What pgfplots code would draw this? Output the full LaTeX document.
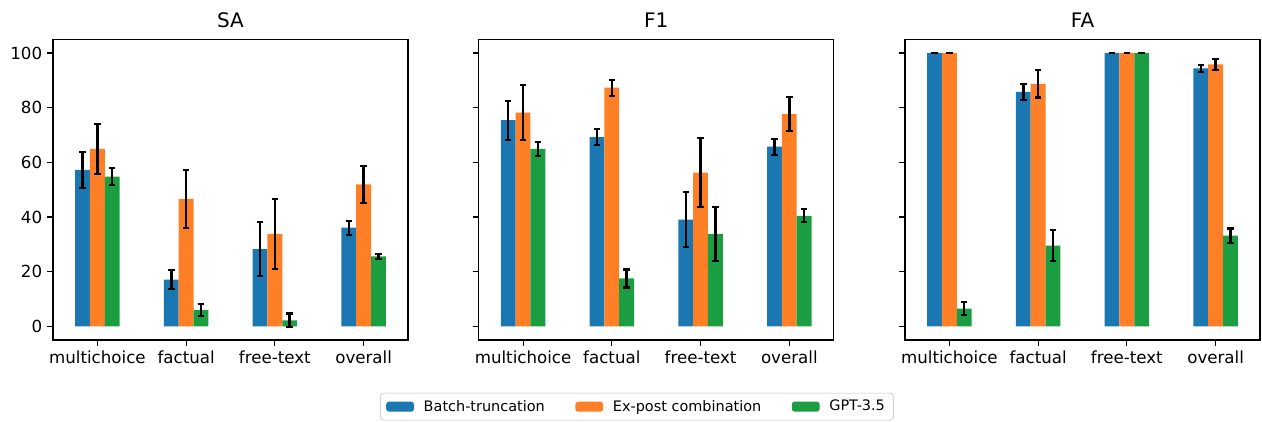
\documentclass[border=0pt]{standalone}
\usepackage{fontspec}
\setmainfont{DejaVu Sans}
\usepackage{pgfplots}
\usepackage{pgfplotstable}
\pgfplotsset{compat=1.18}

\definecolor{tabblue}{HTML}{1B77B2}
\definecolor{taborange}{HTML}{FF7F27}
\definecolor{tabgreen}{HTML}{1B9E41}

% columns: category, Batch-truncation (+err), Ex-post combination (+err), GPT-3.5 (+err)
\pgfplotstableread{
x b    be   o    oe   g    ge
0 57.2 6.6  64.9 9.2  54.8 3.0
1 17.1 3.6  46.6 10.5 6.0  2.3
2 28.2 9.9  33.8 12.7 2.2  2.5
3 36.1 2.6  51.9 6.7  25.6 1.0
}\sa
\pgfplotstableread{
x b    be   o    oe   g    ge
0 75.4 7.1  78.2 10.0 64.9 2.5
1 69.2 2.9  87.3 2.9  17.5 3.3
2 39.0 10.1 56.2 12.7 33.8 9.8
3 65.7 2.9  77.6 6.2  40.4 2.4
}\fone
\pgfplotstableread{
x b     be  o     oe  g     ge
0 100.0 0.0 100.0 0.0 6.5   2.4
1 85.8  2.9 88.7  5.0 29.5  5.7
2 100.0 0.0 100.0 0.0 100.0 0.0
3 94.4  1.2 95.8  2.1 33.2  2.6
}\fa

\pgfplotsset{
  panel/.style={
    scale only axis,
    width=255.6pt, height=216.5pt,
    anchor=south west,
    xmin=-0.5, xmax=3.5,
    ymin=-5, ymax=105,
    xtick={0,1,2,3},
    xticklabels={multichoice,factual,free-text,overall},
    ytick={0,20,...,100},
    xtick pos=bottom, ytick pos=left,
    tick align=outside,
    major tick length=4.3pt,
    axis line style={line width=0.8pt},
    every tick/.style={black, line width=0.8pt},
    tick label style={font=\fontsize{12}{14}\selectfont},
    /pgf/number format/assume math mode=true,
    title style={font=\fontsize{14.4}{17}\selectfont, yshift=-1pt},
    ybar, bar width=0.1667,
  },
  eb/.style={draw=none,
    error bars/y dir=both, error bars/y explicit,
    error bars/error bar style={line width=1.7pt, black},
    error bars/error mark options={rotate=90, mark size=2.3pt, line width=1.5pt, black}},
  bb/.style={eb, fill=tabblue, bar shift=-0.1667},
  oo/.style={eb, fill=taborange, bar shift=0},
  gg/.style={eb, fill=tabgreen, bar shift=0.1667},
}

\begin{document}
\begin{tikzpicture}
\useasboundingbox (0,0) rectangle (908.64pt,303.12pt);

\begin{axis}[panel, at={(38.16pt,58.32pt)}, title={SA},
  legend columns=3,
  legend style={at={(1.645,-0.176)}, anchor=north,
    font=\fontsize{10.4}{12}\selectfont,
    draw=black!25, rounded corners=2pt,
    inner xsep=4pt, inner ysep=3pt,
    /tikz/every odd column/.append style={column sep=5pt},
    /tikz/every even column/.append style={column sep=20pt}},
  legend image code/.code={\fill[#1] (0pt,-3.6pt) rectangle (20pt,3.6pt);},
]
\addplot[bb] table[x=x, y=b, y error=be] {\sa};
\addplot[oo] table[x=x, y=o, y error=oe] {\sa};
\addplot[gg] table[x=x, y=g, y error=ge] {\sa};
\legend{Batch-truncation, Ex-post combination, GPT-3.5}
\end{axis}

\begin{axis}[panel, at={(344.66pt,58.32pt)}, title={F1}, yticklabels={}]
\addplot[bb] table[x=x, y=b, y error=be] {\fone};
\addplot[oo] table[x=x, y=o, y error=oe] {\fone};
\addplot[gg] table[x=x, y=g, y error=ge] {\fone};
\end{axis}

\begin{axis}[panel, at={(651.6pt,58.32pt)}, title={FA}, yticklabels={}]
\addplot[bb] table[x=x, y=b, y error=be] {\fa};
\addplot[oo] table[x=x, y=o, y error=oe] {\fa};
\addplot[gg] table[x=x, y=g, y error=ge] {\fa};
\end{axis}
\end{tikzpicture}
\end{document}
